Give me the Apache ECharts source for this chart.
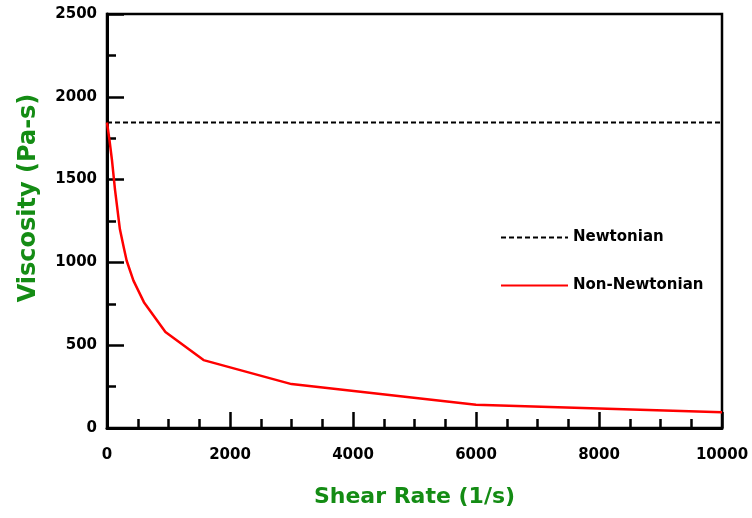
<!DOCTYPE html>
<html>
<head>
<meta charset="utf-8">
<script src="https://cdn.jsdelivr.net/npm/echarts@6/dist/echarts.min.js"></script>
<style>
html,body{margin:0;padding:0;background:#fff;}
#chart{width:752px;height:518px;}
</style>
</head>
<body>
<div id="chart"></div>
<script>
// Data
const shearRate = [0, 40, 80, 130, 210, 270, 320, 430, 600, 950, 1570, 3000, 6000, 8000, 10000];
const nonNewtonian = [1845, 1740, 1620, 1440, 1200, 1095, 1010, 890, 760, 580, 410, 265, 140, 118, 95];
const newtonianX = [0, 10000];
const newtonianY = [1845, 1845];
const seriesNames = ['Newtonian', 'Non-Newtonian'];
const xTitle = 'Shear Rate (1/s)';
const yTitle = 'Viscosity (Pa-s)';

const chart = echarts.init(document.getElementById('chart'), null, {renderer: 'canvas'});
const pair = (xs, ys) => xs.map((x, i) => [x, ys[i]]);
const font = 'DejaVu Sans';

chart.setOption({
  animation: false,
  backgroundColor: '#fff',
  grid: {left: 107, right: 30, top: 14, bottom: 90, show: true, borderColor: '#000', borderWidth: 2.5, backgroundColor: 'transparent'},
  legend: {
    orient: 'vertical',
    left: 500,
    top: 230,
    padding: 0,
    itemGap: 33,
    itemWidth: 67,
    itemHeight: 14,
    data: seriesNames,
    itemStyle: {opacity: 0},
    textStyle: {fontFamily: font, fontWeight: 'bold', fontSize: 15, color: '#000'}
  },
  graphic: [{
    type: 'text', x: 29, y: 198, rotation: Math.PI / 2,
    style: {text: yTitle, font: 'bold 24px "DejaVu Sans"', fill: '#148c14', align: 'center', verticalAlign: 'middle'}
  }],
  xAxis: {
    type: 'value', min: 0, max: 10000, interval: 2000,
    name: xTitle, nameLocation: 'middle', nameGap: 58,
    nameTextStyle: {fontFamily: font, fontWeight: 'bold', fontSize: 22, color: '#148c14'},
    axisLine: {show: true, lineStyle: {color: '#000', width: 3}},
    axisTick: {show: true, inside: true, length: 16, lineStyle: {color: '#000', width: 2.5}},
    minorTick: {show: true, splitNumber: 4, length: 9, lineStyle: {color: '#000', width: 2.5}},
    splitLine: {show: false},
    axisLabel: {fontFamily: font, fontWeight: 'bold', fontSize: 15, color: '#000', margin: 20, formatter: v => String(v)}
  },
  yAxis: {
    type: 'value', min: 0, max: 2500, interval: 500,
    axisLine: {show: true, lineStyle: {color: '#000', width: 3}},
    axisTick: {show: true, inside: true, length: 17, lineStyle: {color: '#000', width: 2.5}},
    minorTick: {show: true, splitNumber: 2, length: 9, lineStyle: {color: '#000', width: 2.5}},
    splitLine: {show: false},
    axisLabel: {fontFamily: font, fontWeight: 'bold', fontSize: 15, color: '#000', margin: 10, formatter: v => String(v)}
  },
  series: [
    {
      name: seriesNames[0], type: 'line', symbol: 'none',
      data: pair(newtonianX, newtonianY),
      lineStyle: {color: '#000', width: 2, type: [5, 3]},
      itemStyle: {color: '#000'}
    },
    {
      name: seriesNames[1], type: 'line', symbol: 'none',
      data: pair(shearRate, nonNewtonian),
      lineStyle: {color: '#ff0000', width: 2.5},
      itemStyle: {color: '#ff0000'}
    }
  ]
});
</script>
</body>
</html>
